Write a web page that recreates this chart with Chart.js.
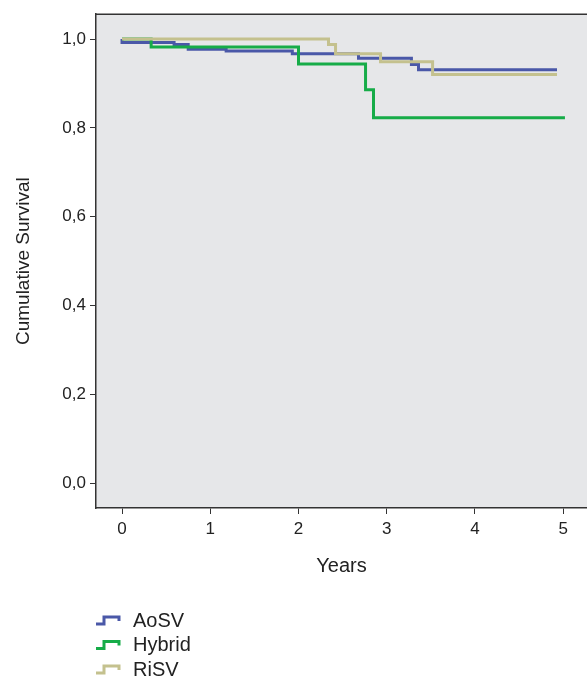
<!DOCTYPE html>
<html>
<head>
<meta charset="utf-8">
<script src="https://cdn.jsdelivr.net/npm/chart.js@4"></script>
<style>
  html, body { margin: 0; padding: 0; background: #fff; }
</style>
</head>
<body>
<canvas id="km" width="587" height="678"></canvas>
<script>
// Kaplan-Meier survival, values
const seriesNames = ['AoSV', 'Hybrid', 'RiSV'];
const seriesColors = ['#4a58a8', '#16ac48', '#c4c18e'];

const aosvTimes = [0, 0.0, 0.59, 0.75, 1.18, 1.93, 2.68, 3.28, 3.36, 4.93];
const aosvSurv  = [1.0, 0.992, 0.988, 0.977, 0.973, 0.967, 0.957, 0.943, 0.931, 0.931];

const hybridTimes = [0, 0.33, 2.0, 2.76, 2.85, 5.02];
const hybridSurv  = [1.0, 0.982, 0.944, 0.886, 0.823, 0.823];

const risvTimes = [0, 2.34, 2.42, 2.93, 3.52, 4.93];
const risvSurv  = [1.0, 0.988, 0.967, 0.949, 0.920, 0.920];

const xTicks = [0, 1, 2, 3, 4, 5];
const yTicks = [0, 0.2, 0.4, 0.6, 0.8, 1.0];

const FONT = "'Liberation Sans', Arial, Helvetica, sans-serif";
const TEXT = '#222';
const AXIS = '#333';

function toPoints(times, surv) {
    return times.map((t, i) => ({ x: t, y: surv[i] }));
}

// grey plot panel + top border
const panelPlugin = {
    id: 'panel',
    beforeDraw(chart) {
        const { ctx, chartArea: a } = chart;
        ctx.save();
        ctx.fillStyle = '#e6e7e9';
        ctx.fillRect(a.left, a.top, a.right - a.left, a.bottom - a.top);
        ctx.restore();
    },
    afterDraw(chart) {
        const { ctx, chartArea: a } = chart;
        ctx.save();
        ctx.strokeStyle = AXIS;
        ctx.lineWidth = 1.5;
        ctx.beginPath();
        ctx.moveTo(a.left, a.top);
        ctx.lineTo(a.right, a.top);
        ctx.stroke();
        ctx.restore();
    }
};

// vertical legend with little step glyphs, under the x axis title
const stepLegendPlugin = {
    id: 'stepLegend',
    afterDraw(chart) {
        const { ctx } = chart;
        const x0 = 96, y0 = 620, rowH = 24.5;
        ctx.save();
        chart.data.datasets.forEach((ds, i) => {
            const y = y0 + i * rowH;
            ctx.strokeStyle = ds.borderColor;
            ctx.lineWidth = 3;
            ctx.beginPath();
            ctx.moveTo(x0, y + 4);
            ctx.lineTo(x0 + 8, y + 4);
            ctx.lineTo(x0 + 8, y - 3);
            ctx.lineTo(x0 + 23, y - 3);
            ctx.lineTo(x0 + 23, y + 1);
            ctx.stroke();
            ctx.fillStyle = TEXT;
            ctx.font = '20px ' + FONT;
            ctx.textBaseline = 'middle';
            ctx.fillText(ds.label, x0 + 37, y + 1);
        });
        ctx.restore();
    }
};

new Chart(document.getElementById('km'), {
    type: 'line',
    data: {
        datasets: [
            { label: seriesNames[0], data: toPoints(aosvTimes, aosvSurv), borderColor: seriesColors[0], order: 2 },
            { label: seriesNames[1], data: toPoints(hybridTimes, hybridSurv), borderColor: seriesColors[1], order: 1 },
            { label: seriesNames[2], data: toPoints(risvTimes, risvSurv), borderColor: seriesColors[2], order: 0 }
        ].map(ds => Object.assign(ds, {
            stepped: 'before',
            borderWidth: 3,
            pointRadius: 0,
            fill: false,
            tension: 0
        }))
    },
    options: {
        responsive: false,
        animation: false,
        layout: { padding: { top: 13, right: 0, bottom: 100, left: 0 } },
        plugins: {
            legend: { display: false },
            tooltip: { enabled: false }
        },
        scales: {
            x: {
                type: 'linear',
                min: -0.295,
                max: 5.27,
                afterBuildTicks: s => { s.ticks = xTicks.map(v => ({ value: v })); },
                afterFit: s => { s.height = 70; },
                ticks: {
                    font: { family: FONT, size: 17 },
                    color: TEXT,
                    padding: 5,
                    callback: v => String(v)
                },
                grid: { drawOnChartArea: false, tickLength: 6, color: AXIS, lineWidth: 1 },
                border: { color: AXIS, width: 1.5 },
                title: {
                    display: true,
                    text: 'Years',
                    color: TEXT,
                    font: { family: FONT, size: 20, lineHeight: 1.2 },
                    padding: { top: 1, bottom: 0 }
                }
            },
            y: {
                min: -0.056,
                max: 1.056,
                afterBuildTicks: s => { s.ticks = yTicks.map(v => ({ value: v })); },
                afterFit: s => { s.width = 96; },
                ticks: {
                    font: { family: FONT, size: 17 },
                    color: TEXT,
                    padding: 4,
                    callback: v => v.toFixed(1).replace('.', ',')
                },
                grid: { drawOnChartArea: false, tickLength: 6, color: AXIS, lineWidth: 1 },
                border: { color: AXIS, width: 1.5 },
                title: {
                    display: true,
                    text: 'Cumulative Survival',
                    color: TEXT,
                    font: { family: FONT, size: 19, lineHeight: 1.2 },
                    padding: { top: 12, bottom: 0 }
                }
            }
        }
    },
    plugins: [panelPlugin, stepLegendPlugin]
});
</script>
</body>
</html>
